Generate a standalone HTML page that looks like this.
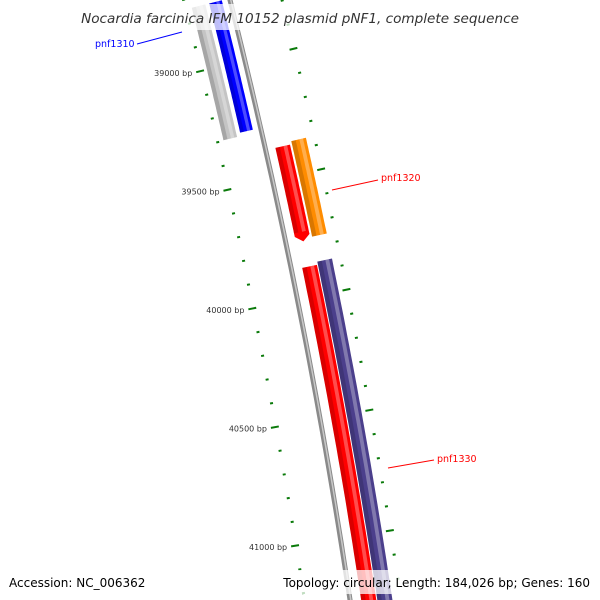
<!DOCTYPE html>
<html><head><meta charset="utf-8"><style>
html,body{margin:0;padding:0;background:#fff;width:600px;height:600px;overflow:hidden;}
svg{display:block;font-family:"DejaVu Sans","Liberation Sans",sans-serif;overflow:hidden;}
</style></head><body>
<svg id="map" width="600" height="600" viewBox="0 0 600 600">
<g id="ticks"></g>
<g id="backbone"></g>
<g id="features"></g>
<g id="labels"></g>
<rect x="78" y="4" width="444" height="26" fill="#fff" opacity="0.75"/>
<text x="300" y="23" text-anchor="middle" font-size="13.6" font-style="italic" fill="#333">Nocardia farcinica IFM 10152 plasmid pNF1, complete sequence</text>
<rect x="4" y="570" width="142" height="24" fill="#fff" opacity="0.75"/>
<text x="9" y="587" font-size="12" fill="#000">Accession: NC_006362</text>
<rect x="281" y="570" width="315" height="24" fill="#fff" opacity="0.75"/>
<text x="590" y="587" text-anchor="end" font-size="12" fill="#000">Topology: circular; Length: 184,026 bp; Genes: 160</text>
</svg>
<script>
const featureNames=["pnf1310-shadow","pnf1310","pnf1320a","pnf1320","pnf1330a","pnf1330"];
const featureStarts=[38740,38740,39375,39362,39877,39864];
const featureEnds=[39297,39282,39772,39760,41650,41650];
const featureColors=["#c4c4c4","#0000ff","#ff0000","#ff8c00","#ff0000","#4b3f8c"];
const featureR0=[-39,-21,10,27,11,27];
const featureR1=[-25,-8,25,42,26,42];
const featureArrow=[0,0,1,0,0,0];
const labelTexts=["pnf1310","pnf1320","pnf1330"];
const labelColors=["#0000ff","#ff0000","#ff0000"];
const tickStart=38700, tickEnd=41600, tickStep=100, majorStep=500;
const NS="http://www.w3.org/2000/svg";
function yOf(bp){return 180+(bp-39500)*0.239;}
function pt(bp,r){const y=yOf(bp);const x=230+0.25*y-0.0000833*y*y;const s=0.25-0.0001667*y;const n=Math.sqrt(1+s*s);return [x+r/n,y-r*s/n];}
function mk(tag,parent,attrs){const e=document.createElementNS(NS,tag);for(const k in attrs)e.setAttribute(k,attrs[k]);parent.appendChild(e);return e;}
function band(bp0,bp1,r0,r1,arrow){const pts=[];const steps=40;const end=arrow?bp1-25:bp1;
 for(let i=0;i<=steps;i++){pts.push(pt(bp0+(end-bp0)*i/steps,r1));}
 if(arrow)pts.push(pt(bp1,(r0+r1)/2));
 for(let i=steps;i>=0;i--){pts.push(pt(bp0+(end-bp0)*i/steps,r0));}
 return pts.map(p=>p[0].toFixed(1)+","+p[1].toFixed(1)).join(" ");}
const tg=document.getElementById('ticks');
for(let bp=tickStart;bp<=tickEnd;bp+=tickStep){
 const major=bp%majorStep===0;
 const a=pt(bp,major?-50:-46.5),b=pt(bp,major?-42:-43.5);
 const l=mk('line',tg,{x1:a[0],y1:a[1],x2:b[0],y2:b[1],stroke:'#0a7a0a','stroke-width':2});
 
 
 const c=pt(bp,major?46:49),d=pt(bp,major?54:52);
 const l2=mk('line',tg,{x1:c[0],y1:c[1],x2:d[0],y2:d[1],stroke:'#0a7a0a','stroke-width':2});
 
 
 if(major){const p=pt(bp,-54);
  const t=mk('text',tg,{x:p[0],y:p[1]+3,'text-anchor':'end','font-size':8,fill:'#333'});
  t.textContent=bp+' bp';
  
  }
}
const bg=document.getElementById('backbone');
const bb=mk('polygon',bg,{points:band(38650,41700,-2.5,2.5,0),fill:'#8a8a8a'});


mk('polygon',bg,{points:band(38650,41700,0,1.5,0),fill:'#c8c8c8'});
const fg=document.getElementById('features');
for(let i=0;i<featureNames.length;i++){
 const p=mk('polygon',fg,{points:band(featureStarts[i],featureEnds[i],featureR0[i],featureR1[i],featureArrow[i]),fill:featureColors[i]});
 
 
 const w=featureR1[i]-featureR0[i];
 mk('polygon',fg,{points:band(featureStarts[i],featureEnds[i]-(featureArrow[i]?40:0),featureR0[i],featureR0[i]+w*0.3,0),fill:'#000',opacity:0.15});
 mk('polygon',fg,{points:band(featureStarts[i],featureEnds[i]-(featureArrow[i]?40:0),featureR0[i]+w*0.55,featureR0[i]+w*0.8,0),fill:'#fff',opacity:0.3});
}
const lg=document.getElementById('labels');
const lpos=[[137,44,182,32,95,47],[332,190,378,180,381,181],[388,468,434,460,437,462]];
for(let i=0;i<labelTexts.length;i++){
 const q=lpos[i];
 const ln=mk('line',lg,{x1:q[0],y1:q[1],x2:q[2],y2:q[3],stroke:labelColors[i],'stroke-width':1});
 
 
 const t=mk('text',lg,{x:q[4],y:q[5],'font-size':9.5,fill:labelColors[i]});
 t.textContent=labelTexts[i];
 
 
}
</script>
</body></html>
